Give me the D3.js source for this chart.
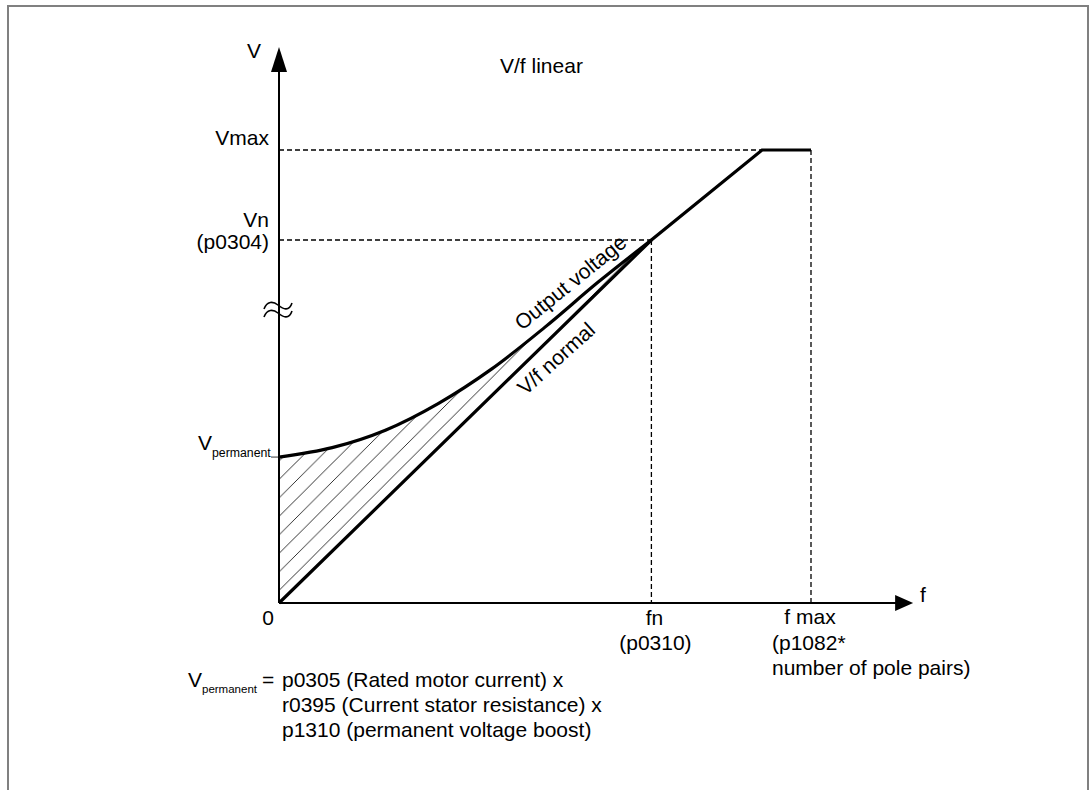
<!DOCTYPE html>
<html>
<head>
<meta charset="utf-8">
<script src="https://cdn.jsdelivr.net/npm/d3@7"></script>
<style>
  body { margin: 0; background: #fff; }
  text { font-family: Arial, "Liberation Sans", sans-serif; fill: #000; }
</style>
</head>
<body>
<div id="chart"></div>
<script>
// values (f and V in % of rated point fn / Vn)
const fN = 70;
const fAtVmax = 90.8;
const fMax = 100;
const vN = 100;
const vMax = 124.8;
const vPermanent = 40.2;

// V/f normal characteristic
const vfF = [0, fN, fAtVmax, fMax];
const vfV = [0, vN, vMax, vMax];

// output voltage with boost
const outF = [0, 10, 20, 30, 40, 50, 60, fN];
const outV = [vPermanent, 42.8, 47.6, 55, 64.5, 76, 88.4, vN];

const formulaLines = [
    "p0305 (Rated motor current) x",
    "r0395 (Current stator resistance) x",
    "p1310 (permanent voltage boost)"
];

function createSVG(containerId, width, height) {
    d3.select(`#${containerId}`).selectAll("*").remove();
    const svg = d3.select(`#${containerId}`)
        .append("svg")
        .attr("width", width)
        .attr("height", height);

    // diagonal hatching for the boost area
    svg.append("defs").append("pattern")
        .attr("id", "hatch")
        .attr("patternUnits", "userSpaceOnUse")
        .attr("width", 18.5)
        .attr("height", 18.5)
        .append("path")
        .attr("d", "M-2,20.5 L20.5,-2")
        .attr("stroke", "#000")
        .attr("stroke-width", 0.8);
    return svg;
}

function drawChart() {
    const svg = createSVG("chart", 1091, 790);

    // frame
    svg.append("rect")
        .attr("x", 8).attr("y", 6)
        .attr("width", 1080).attr("height", 820)
        .attr("fill", "none")
        .attr("stroke", "#808080")
        .attr("stroke-width", 2);

    const x = d3.scaleLinear().domain([0, 100]).range([279, 811]);
    const y = d3.scaleLinear().domain([0, 100]).range([603, 240]);

    const vf = vfF.map((f, i) => ({ f, v: vfV[i] }));
    const out = outF.map((f, i) => ({ f, v: outV[i] }));

    // hatched area between V/f normal and output voltage
    const area = d3.area()
        .x(d => x(d.f))
        .y0(d => y(d.f * vN / fN))
        .y1(d => y(d.v))
        .curve(d3.curveCatmullRom);
    svg.append("path")
        .datum(out)
        .attr("fill", "url(#hatch)")
        .attr("d", area);

    // dashed guides
    const dash = (x1, y1, x2, y2) => svg.append("line")
        .attr("x1", x1).attr("y1", y1).attr("x2", x2).attr("y2", y2)
        .attr("stroke", "#000")
        .attr("stroke-width", 1.3)
        .attr("stroke-dasharray", "5,3");
    dash(x(0), y(vMax), x(fAtVmax), y(vMax));
    dash(x(fMax), y(vMax), x(fMax), y(0));
    dash(x(0), y(vN), x(fN), y(vN));
    dash(x(fN), y(vN), x(fN), y(0));

    // axes with arrow heads
    const vTop = 153.2, fRight = 119.2;
    svg.append("line")
        .attr("x1", x(0)).attr("y1", y(0))
        .attr("x2", x(0)).attr("y2", y(vTop) + 20)
        .attr("stroke", "#000").attr("stroke-width", 2);
    svg.append("path")
        .attr("d", `M${x(0)},${y(vTop)} L${x(0) + 8},${y(vTop) + 25} L${x(0) - 8},${y(vTop) + 25} Z`)
        .attr("fill", "#000");
    svg.append("line")
        .attr("x1", x(0)).attr("y1", y(0))
        .attr("x2", x(fRight) - 16).attr("y2", y(0))
        .attr("stroke", "#000").attr("stroke-width", 2);
    svg.append("path")
        .attr("d", `M${x(fRight)},${y(0)} L${x(fRight) - 18},${y(0) - 8} L${x(fRight) - 18},${y(0) + 8} Z`)
        .attr("fill", "#000");

    // axis break
    [0, 8].forEach(o => {
        svg.append("path")
            .attr("d", `M264,${309 + o} C267,${301 + o} 273,${301 + o} 278,${305 + o} S289,${312 + o} 292,${303 + o}`)
            .attr("fill", "none")
            .attr("stroke", "#000")
            .attr("stroke-width", 1.6);
    });

    // V/f normal
    svg.append("path")
        .datum(vf)
        .attr("fill", "none")
        .attr("stroke", "#000")
        .attr("stroke-width", 3.2)
        .attr("d", d3.line().x(d => x(d.f)).y(d => y(d.v)));

    // output voltage
    svg.append("path")
        .datum(out)
        .attr("fill", "none")
        .attr("stroke", "#000")
        .attr("stroke-width", 3.2)
        .attr("d", d3.line().x(d => x(d.f)).y(d => y(d.v)).curve(d3.curveCatmullRom));

    // V permanent marker
    svg.append("line")
        .attr("x1", 271).attr("y1", y(vPermanent))
        .attr("x2", x(0)).attr("y2", y(vPermanent))
        .attr("stroke", "#000").attr("stroke-width", 0.8);

    const txt = (s, tx, ty, anchor = "start", size = 21) => svg.append("text")
        .attr("x", tx).attr("y", ty)
        .attr("text-anchor", anchor)
        .attr("font-size", size)
        .text(s);

    txt("V", 247, 58);
    txt("V/f linear", 500, 73);
    txt("Vmax", 269, 145, "end");
    txt("Vn", 269, 227, "end");
    txt("(p0304)", 269, 249, "end");
    txt("V", 198, 450);
    txt("permanent", 212, 457, "start", 12.3);
    txt("0", 268, 625, "middle");
    txt("fn", x(fN) + 3, 625, "middle");
    txt("(p0310)", x(fN) + 4, 650, "middle");
    txt("f max", x(fMax) - 1, 624, "middle");
    txt("(p1082*", 772, 650);
    txt("number of pole pairs)", 772, 675);
    txt("f", 920, 602);

    // curve labels
    svg.append("text")
        .attr("transform", "translate(575,288) rotate(-39)")
        .attr("text-anchor", "middle")
        .attr("font-size", 21)
        .text("Output voltage");
    svg.append("text")
        .attr("transform", "translate(561,364) rotate(-42)")
        .attr("text-anchor", "middle")
        .attr("font-size", 21)
        .text("V/f normal");

    // formula
    txt("V", 188, 687);
    txt("permanent", 202, 693, "start", 11.5);
    txt("=", 262, 687);
    formulaLines.forEach((s, i) => txt(s, 282, 687 + i * 25));
}

drawChart();
</script>
</body>
</html>
